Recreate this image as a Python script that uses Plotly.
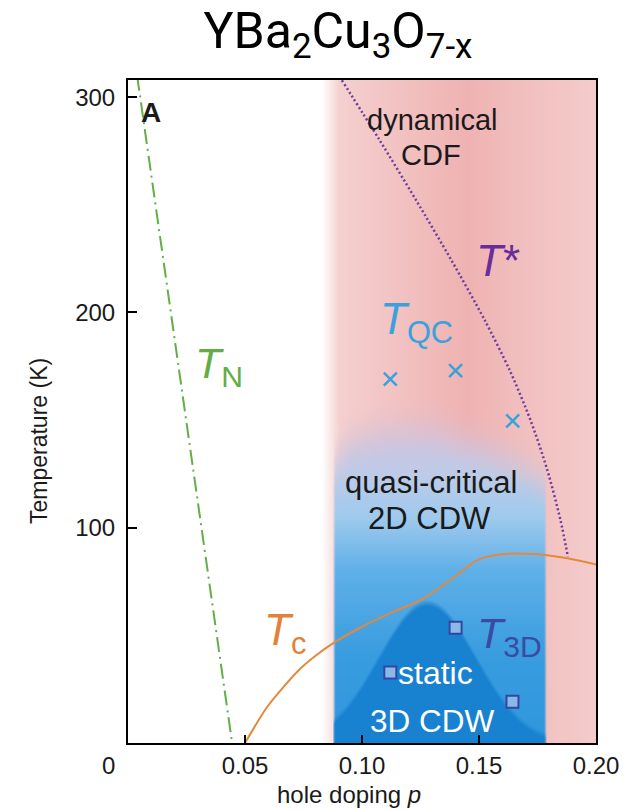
import base64
import struct
import zlib

import numpy as np
import plotly.graph_objects as go

# ---------------- data ----------------
# Neel temperature line T_N
tn_p = [0.0039, 0.0445]
tn_T = [310, 0]

# superconducting dome T_c
tc_p = [0.050, 0.0593, 0.0664, 0.0736, 0.0807, 0.0879, 0.100, 0.1135, 0.125, 0.1378,
        0.1493, 0.159, 0.1735, 0.1878, 0.2007]
tc_T = [0, 16.5, 26.0, 34.5, 41.0, 46.5, 54, 61, 66.4, 75.7, 85, 87.6, 87.8, 85.8, 82.7]

# pseudogap T*
ts_p = [0.0914, 0.1075, 0.1231, 0.1382, 0.1524, 0.1631, 0.1720, 0.1792, 0.1848, 0.1880]
ts_T = [307.9, 280.1, 252.2, 224.3, 196.5, 173.2, 150.0, 126.8, 103.6, 86.5]

# quasi-critical CDW onset T_QC (crosses)
qc_p = [0.1121, 0.1400, 0.1644]
qc_T = [169.0, 173.0, 149.6]

# 3D CDW onset T_3D (squares)
t3d_p = [0.1400, 0.1121, 0.1643]
t3d_T = [53.5, 32.7, 19.2]

# tick labels
x_ticks = [0.05, 0.10, 0.15, 0.20]
x_ticktext = ["0.05", "0.10", "0.15", "0.20"]
y_ticks = [100, 200, 300]
y_ticktext = ["100", "200", "300"]

# background regions
bg_p_range = [0.08, 0.20]
bg_T_range = [0, 308]
pink_p = [0.0830, 0.0905, 0.110, 0.145, 0.165, 0.200]
pink_rgb = [(255, 255, 255), (245, 207, 207), (243, 197, 197), (239, 178, 178), (241, 189, 189), (244, 203, 203)]

blue_edges = [0.0875, 0.1790]
blue_top_p = [0.0875, 0.095, 0.110, 0.130, 0.150, 0.165, 0.179]
blue_top_T = [144, 156, 162, 162, 154, 146, 136]
blue_T = [0, 40, 80, 105, 125, 145, 165]
blue_rgb = [(48, 151, 221), (56, 156, 223), (95, 176, 232), (160, 202, 237), (190, 203, 232),
            (210, 195, 220), (228, 186, 202)]

static_peak_p = 0.128
static_peak_T = 65.0
static_width = 0.0208
static_rgb = (24, 129, 208)

# ---------------- background image ----------------
dp, dT = 0.0004, 0.5
P = np.arange(bg_p_range[0] + dp / 2, bg_p_range[1], dp)
T = np.arange(bg_T_range[1] - dT / 2, bg_T_range[0], -dT)  # top row first
PP, TT = np.meshgrid(P, T)

pink = np.stack([np.interp(PP, pink_p, [c[i] for c in pink_rgb]) for i in range(3)], axis=-1)

ax = np.clip((PP - blue_edges[0]) / 0.0012, 0, 1) * np.clip((blue_edges[1] - PP) / 0.0012, 0, 1)
top = np.interp(PP, blue_top_p, blue_top_T)
at = np.clip((top - TT) / 30.0, 0, 1)
at = at * at * (3 - 2 * at)
a = (ax * at)[..., None]
blue = np.stack([np.interp(TT, blue_T, [c[i] for c in blue_rgb]) for i in range(3)], axis=-1)
img = pink * (1 - a) + blue * a

tri = static_peak_T * np.exp(-((PP - static_peak_p) ** 2) / (2 * static_width ** 2))
atri = (np.clip((tri - TT) / 3.0 + 0.5, 0, 1) * ax)[..., None]
img = img * (1 - atri) + np.array(static_rgb)[None, None, :] * atri
img = np.clip(np.round(img), 0, 255).astype(np.uint8)


def png_data_uri(arr):
    h, w, _ = arr.shape
    raw = b"".join(b"\x00" + arr[i].tobytes() for i in range(h))

    def chunk(tag, data):
        return (struct.pack(">I", len(data)) + tag + data
                + struct.pack(">I", zlib.crc32(tag + data) & 0xFFFFFFFF))

    png = (b"\x89PNG\r\n\x1a\n"
           + chunk(b"IHDR", struct.pack(">IIBBBBB", w, h, 8, 2, 0, 0, 0))
           + chunk(b"IDAT", zlib.compress(raw, 9))
           + chunk(b"IEND", b""))
    return "data:image/png;base64," + base64.b64encode(png).decode()


# ---------------- figure ----------------
fig = go.Figure()

fig.add_trace(go.Scatter(x=tn_p, y=tn_T, mode="lines",
                         line=dict(color="#63ae46", width=2, dash="15px,5px,2px,5px")))
fig.add_trace(go.Scatter(x=tc_p, y=tc_T, mode="lines",
                         line=dict(color="#e3883f", width=2, shape="spline", smoothing=0.8)))
fig.add_trace(go.Scatter(x=ts_p, y=ts_T, mode="lines",
                         line=dict(color="#6a3d9e", width=2.5, dash="2px,2.5px", shape="spline", smoothing=0.8)))
fig.add_trace(go.Scatter(x=qc_p, y=qc_T, mode="markers",
                         marker=dict(symbol="x-thin", size=13, line=dict(color="#3aa1dc", width=2.5))))
fig.add_trace(go.Scatter(x=t3d_p, y=t3d_T, mode="markers",
                         marker=dict(symbol="square", size=12, color="#8cb8e8",
                                     line=dict(color="#3446a0", width=2))))

FONT = "Liberation Sans, Arial, sans-serif"
axis_common = dict(showline=True, linecolor="black", linewidth=2, mirror=True,
                   showgrid=False, zeroline=False, ticks="inside", tickcolor="black",
                   tickwidth=1.5, tickfont=dict(family=FONT, size=24, color="#1a1a1a"))
fig.update_xaxes(range=[0, 0.2], tickvals=x_ticks, ticktext=x_ticktext, ticklen=8, **axis_common)
fig.update_yaxes(range=[0, 308], tickvals=y_ticks, ticktext=y_ticktext,
                 ticklen=9, ticklabelstandoff=6, **axis_common)

# the page shows the figure with an 8 px body margin
OFF = 8
W, H = 639 - OFF, 810 - OFF
L, R, TOP, B = 128 - OFF, 43, 80 - OFF, 67
PW, PH = W - L - R, H - TOP - B


def px(xs):  # screen x -> paper x
    return (xs - OFF - L) / PW


def py(ys):  # screen y -> paper y
    return (H - B - (ys - OFF)) / PH


ann = []


def text(t, x, y, size, color="#1a1a1a", xref="x", yref="y", **kw):
    ann.append(dict(text=t, x=x, y=y, xref=xref, yref=yref, showarrow=False,
                    xanchor="center", yanchor="middle",
                    font=dict(family=kw.pop("family", FONT), size=size, color=color), **kw))


text("0", px(108), py(765), 24, xref="paper", yref="paper")
text("hole doping <i>p</i>", px(348.5), py(794), 24, xref="paper", yref="paper")
text("Temperature (K)", px(39), py(441), 23, xref="paper", yref="paper", textangle=-90)
text("<b>A</b>", 0.010, 293, 28, "#1a1a1a")
text("dynamical", 0.1301, 289.5, 29)
text("CDF", 0.1293, 273.3, 29)
text("quasi-critical", 0.1293, 120.8, 31)
text("2D CDW", 0.1288, 104.5, 31)
text("static", 0.1314, 32.5, 32, "white")
text("3D CDW", 0.1303, 10.4, 31.5, "white")
text("<i>T</i>*", 0.158, 224.3, 44, "#6a2c9a")
text("<i>T</i><sub>QC</sub>", 0.1235, 195.5, 44, "#3aa1dc")
text("<i>T</i><sub>N</sub>", 0.0391, 175, 43, "#62ad45")
text("<i>T</i><sub>c</sub>", 0.0671, 51, 44, "#e3813a")
text("<i>T</i><sub>3D</sub>", 0.1629, 49.7, 43, "#3a4ba4")

fig.update_layout(
    width=W, height=H, margin=dict(l=L, r=R, t=TOP, b=B),
    paper_bgcolor="white", plot_bgcolor="white", showlegend=False,
    title=dict(text="YBa<sub>2</sub>Cu<sub>3</sub>O<sub>7-x</sub>",
               x=(338 - OFF) / W, y=1 - (30 - OFF) / H, xref="container", yref="container",
               xanchor="center", yanchor="middle",
               font=dict(family="Roboto, sans-serif", size=50, color="black")),
    annotations=ann,
    images=[dict(source=png_data_uri(img), xref="x", yref="y",
                 x=bg_p_range[0], y=bg_T_range[1],
                 sizex=bg_p_range[1] - bg_p_range[0], sizey=bg_T_range[1] - bg_T_range[0],
                 xanchor="left", yanchor="top", sizing="stretch", layer="below")],
)

fig.write_html("out.html")
